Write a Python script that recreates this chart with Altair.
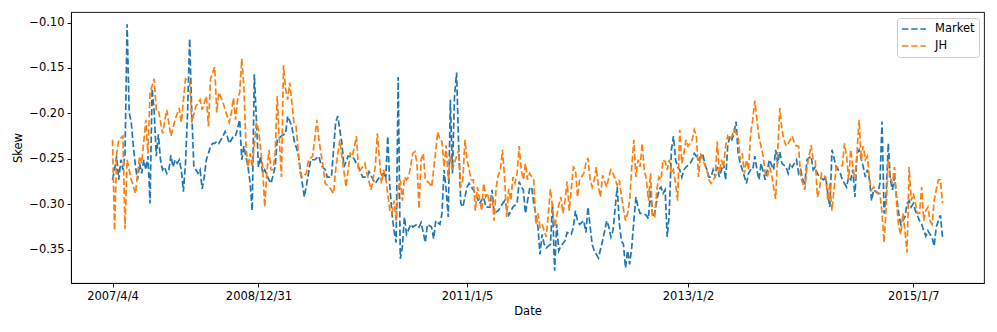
import altair as alt
import pandas as pd

series_names = ["Market", "JH"]
series_colors = ["#1f77b4", "#ff7f0e"]

tick_idx = [0, 70, 170, 276, 384]
tick_labels = ["2007/4/4", "2008/12/31", "2011/1/5", "2013/1/2", "2015/1/7"]
last_idx = 398

market_points = [
    (0, -0.273), (1, -0.262), (2, -0.247), (3, -0.273), (4, -0.251), (5, -0.262), (6, -0.244),
    (7, -0.102), (8, -0.199), (9, -0.210), (10, -0.236), (11, -0.258), (12, -0.273), (13, -0.255),
    (14, -0.266), (15, -0.251), (16, -0.262), (17, -0.247), (18, -0.299), (19, -0.173), (20, -0.199),
    (21, -0.247), (22, -0.223), (23, -0.251), (24, -0.262), (25, -0.259), (26, -0.266), (27, -0.262),
    (28, -0.246), (29, -0.259), (30, -0.251), (31, -0.255), (32, -0.251), (33, -0.262), (34, -0.286),
    (35, -0.255), (36, -0.199), (37, -0.118), (38, -0.199), (39, -0.259), (40, -0.262), (41, -0.266),
    (42, -0.262), (43, -0.283), (44, -0.270), (45, -0.251), (46, -0.244), (47, -0.236), (48, -0.233),
    (49, -0.233), (50, -0.231), (51, -0.233), (52, -0.229), (53, -0.225), (54, -0.220), (55, -0.225),
    (56, -0.233), (57, -0.229), (58, -0.225), (59, -0.225), (61, -0.207), (62, -0.251), (63, -0.236),
    (65, -0.259), (66, -0.277), (67, -0.307), (68, -0.157), (69, -0.207), (70, -0.259), (71, -0.247),
    (72, -0.266), (73, -0.262), (75, -0.273), (76, -0.277), (78, -0.259), (79, -0.229), (81, -0.225),
    (83, -0.222), (84, -0.203), (86, -0.214), (87, -0.229), (89, -0.244), (91, -0.277), (92, -0.292),
    (94, -0.266), (95, -0.251), (97, -0.251), (99, -0.247), (100, -0.257), (102, -0.262), (103, -0.270),
    (105, -0.270), (107, -0.210), (108, -0.203), (110, -0.233), (111, -0.259), (113, -0.247),
    (115, -0.247), (116, -0.251), (118, -0.259), (119, -0.265), (120, -0.270), (122, -0.270),
    (123, -0.264), (125, -0.273), (126, -0.277), (128, -0.270), (130, -0.266), (131, -0.273),
    (132, -0.225), (133, -0.281), (134, -0.310), (135, -0.329), (136, -0.342), (137, -0.160),
    (138, -0.360), (139, -0.347), (140, -0.314), (141, -0.333), (143, -0.322), (144, -0.325),
    (146, -0.322), (147, -0.325), (148, -0.320), (150, -0.342), (151, -0.322), (153, -0.325),
    (154, -0.338), (155, -0.318), (157, -0.322), (158, -0.310), (159, -0.262), (160, -0.284),
    (161, -0.314), (162, -0.185), (163, -0.266), (164, -0.181), (165, -0.155), (166, -0.236),
    (167, -0.299), (168, -0.303), (170, -0.281), (171, -0.277), (173, -0.284), (174, -0.288),
    (176, -0.299), (178, -0.292), (179, -0.303), (181, -0.303), (182, -0.284), (183, -0.310),
    (185, -0.307), (186, -0.303), (188, -0.296), (189, -0.303), (190, -0.312), (192, -0.303),
    (194, -0.299), (195, -0.275), (196, -0.281), (197, -0.284), (198, -0.310), (200, -0.283),
    (201, -0.281), (202, -0.299), (204, -0.325), (205, -0.355), (206, -0.333), (207, -0.344),
    (208, -0.348), (210, -0.344), (211, -0.299), (212, -0.373), (213, -0.322), (214, -0.351),
    (215, -0.346), (217, -0.340), (218, -0.331), (220, -0.333), (221, -0.325), (222, -0.307),
    (223, -0.318), (224, -0.322), (226, -0.318), (227, -0.331), (228, -0.303), (230, -0.344),
    (231, -0.351), (233, -0.359), (235, -0.340), (237, -0.318), (238, -0.325), (239, -0.336),
    (240, -0.329), (242, -0.281), (243, -0.320), (244, -0.340), (245, -0.344), (246, -0.370),
    (247, -0.351), (248, -0.366), (249, -0.347), (250, -0.318), (251, -0.292), (252, -0.303),
    (253, -0.310), (254, -0.310), (256, -0.312), (257, -0.316), (258, -0.284), (259, -0.314),
    (260, -0.310), (261, -0.296), (262, -0.284), (263, -0.281), (264, -0.288), (265, -0.284),
    (266, -0.336), (267, -0.310), (268, -0.240), (269, -0.225), (270, -0.251), (271, -0.259),
    (272, -0.262), (273, -0.270), (274, -0.262), (275, -0.259), (277, -0.255), (278, -0.251),
    (279, -0.244), (280, -0.247), (281, -0.251), (283, -0.244), (284, -0.255), (285, -0.262),
    (286, -0.270), (287, -0.270), (288, -0.262), (289, -0.270), (290, -0.259), (291, -0.270),
    (292, -0.262), (293, -0.255), (294, -0.273), (295, -0.236), (296, -0.225), (297, -0.229),
    (298, -0.222), (299, -0.209), (300, -0.244), (301, -0.255), (302, -0.262), (304, -0.277),
    (305, -0.266), (306, -0.262), (307, -0.262), (308, -0.247), (309, -0.262), (310, -0.273),
    (311, -0.255), (312, -0.264), (313, -0.273), (314, -0.262), (315, -0.251), (317, -0.262),
    (318, -0.240), (319, -0.255), (320, -0.242), (321, -0.255), (323, -0.259), (324, -0.266),
    (325, -0.255), (326, -0.259), (328, -0.251), (329, -0.266), (330, -0.262), (331, -0.273),
    (332, -0.277), (333, -0.251), (335, -0.247), (336, -0.262), (337, -0.259), (338, -0.266),
    (339, -0.270), (341, -0.273), (342, -0.270), (343, -0.288), (344, -0.303), (345, -0.240),
    (347, -0.259), (348, -0.262), (349, -0.266), (350, -0.273), (352, -0.281), (353, -0.270),
    (354, -0.273), (355, -0.262), (356, -0.292), (357, -0.244), (358, -0.240), (360, -0.259),
    (361, -0.270), (362, -0.262), (363, -0.273), (364, -0.296), (365, -0.284), (367, -0.288),
    (368, -0.277), (369, -0.209), (370, -0.310), (371, -0.288), (372, -0.233), (373, -0.273),
    (374, -0.284), (375, -0.270), (376, -0.292), (377, -0.310), (378, -0.322), (379, -0.318),
    (380, -0.314), (381, -0.299), (382, -0.296), (383, -0.303), (384, -0.299), (385, -0.307),
    (387, -0.318), (388, -0.322), (389, -0.329), (390, -0.335), (391, -0.329), (392, -0.333),
    (393, -0.336), (394, -0.346), (395, -0.325), (397, -0.312), (398, -0.336),
]

jh_points = [
    (0, -0.229), (1, -0.329), (2, -0.244), (3, -0.229), (5, -0.225), (6, -0.327), (7, -0.251),
    (9, -0.273), (11, -0.288), (13, -0.247), (14, -0.255), (16, -0.207), (17, -0.244), (18, -0.177),
    (20, -0.162), (21, -0.196), (22, -0.196), (24, -0.222), (26, -0.196), (28, -0.225), (30, -0.207),
    (32, -0.194), (33, -0.210), (35, -0.162), (37, -0.164), (38, -0.210), (40, -0.192), (42, -0.185),
    (43, -0.196), (45, -0.181), (46, -0.214), (47, -0.162), (49, -0.149), (50, -0.199), (51, -0.177),
    (53, -0.188), (54, -0.196), (56, -0.210), (57, -0.199), (58, -0.183), (59, -0.207), (60, -0.185),
    (61, -0.177), (62, -0.140), (63, -0.170), (64, -0.236), (65, -0.259), (66, -0.244), (67, -0.259),
    (69, -0.210), (70, -0.218), (72, -0.259), (73, -0.303), (74, -0.266), (75, -0.240), (76, -0.262),
    (77, -0.262), (78, -0.244), (79, -0.181), (80, -0.229), (81, -0.270), (82, -0.147), (83, -0.173),
    (84, -0.185), (85, -0.166), (87, -0.210), (88, -0.214), (90, -0.266), (91, -0.270), (93, -0.266),
    (94, -0.251), (96, -0.247), (98, -0.207), (99, -0.229), (101, -0.259), (102, -0.277),
    (104, -0.281), (106, -0.288), (107, -0.262), (109, -0.229), (110, -0.247), (112, -0.281),
    (114, -0.244), (115, -0.247), (117, -0.225), (118, -0.264), (120, -0.259), (121, -0.255),
    (122, -0.266), (124, -0.284), (126, -0.259), (127, -0.222), (129, -0.277), (130, -0.262),
    (131, -0.270), (133, -0.307), (134, -0.310), (135, -0.296), (136, -0.318), (137, -0.284),
    (138, -0.273), (139, -0.296), (140, -0.270), (141, -0.273), (142, -0.270), (144, -0.244),
    (145, -0.242), (146, -0.255), (147, -0.305), (148, -0.251), (149, -0.244), (150, -0.273),
    (152, -0.277), (153, -0.281), (154, -0.262), (156, -0.220), (157, -0.229), (158, -0.231),
    (159, -0.259), (160, -0.235), (161, -0.273), (162, -0.247), (163, -0.262), (165, -0.247),
    (166, -0.240), (167, -0.281), (168, -0.273), (169, -0.229), (170, -0.251), (172, -0.273),
    (173, -0.273), (174, -0.307), (175, -0.281), (177, -0.307), (178, -0.277), (179, -0.292),
    (180, -0.288), (181, -0.303), (182, -0.290), (183, -0.318), (184, -0.281), (185, -0.268),
    (186, -0.262), (187, -0.240), (188, -0.270), (189, -0.314), (190, -0.283), (191, -0.296),
    (192, -0.270), (193, -0.277), (194, -0.266), (195, -0.236), (196, -0.262), (197, -0.273),
    (198, -0.255), (199, -0.273), (200, -0.266), (202, -0.273), (203, -0.322), (204, -0.310),
    (205, -0.325), (206, -0.322), (208, -0.336), (209, -0.310), (210, -0.283), (211, -0.303),
    (212, -0.325), (214, -0.301), (215, -0.292), (216, -0.310), (217, -0.296), (218, -0.275),
    (219, -0.307), (221, -0.259), (222, -0.262), (223, -0.292), (224, -0.273), (226, -0.266),
    (227, -0.255), (228, -0.249), (229, -0.273), (230, -0.281), (231, -0.273), (232, -0.259),
    (233, -0.281), (234, -0.292), (235, -0.268), (237, -0.281), (238, -0.270), (239, -0.262),
    (240, -0.266), (242, -0.279), (243, -0.273), (244, -0.290), (245, -0.305), (246, -0.318),
    (247, -0.310), (248, -0.295), (249, -0.259), (250, -0.229), (251, -0.270), (252, -0.251),
    (253, -0.259), (254, -0.233), (255, -0.262), (256, -0.273), (257, -0.296), (258, -0.266),
    (259, -0.314), (260, -0.314), (261, -0.284), (262, -0.270), (263, -0.273), (264, -0.251),
    (265, -0.253), (266, -0.262), (267, -0.251), (268, -0.266), (269, -0.262), (270, -0.277),
    (271, -0.296), (272, -0.218), (273, -0.255), (274, -0.244), (275, -0.229), (276, -0.236),
    (277, -0.233), (278, -0.229), (279, -0.218), (280, -0.225), (281, -0.270), (282, -0.244),
    (283, -0.251), (285, -0.262), (286, -0.273), (287, -0.277), (288, -0.273), (289, -0.270),
    (290, -0.231), (291, -0.266), (292, -0.251), (293, -0.259), (294, -0.236), (295, -0.225),
    (296, -0.229), (297, -0.225), (298, -0.218), (300, -0.225), (301, -0.251), (302, -0.244),
    (303, -0.266), (304, -0.251), (305, -0.262), (306, -0.222), (307, -0.207), (308, -0.186),
    (309, -0.207), (310, -0.226), (312, -0.247), (313, -0.266), (314, -0.270), (315, -0.259),
    (316, -0.266), (317, -0.281), (318, -0.294), (319, -0.240), (320, -0.194), (321, -0.218),
    (322, -0.229), (323, -0.236), (324, -0.233), (325, -0.229), (326, -0.225), (327, -0.233),
    (328, -0.236), (329, -0.236), (330, -0.270), (331, -0.277), (332, -0.284), (333, -0.259),
    (335, -0.235), (336, -0.251), (337, -0.251), (338, -0.292), (339, -0.284), (340, -0.266),
    (342, -0.270), (343, -0.296), (344, -0.277), (345, -0.307), (347, -0.259), (348, -0.259),
    (349, -0.259), (350, -0.257), (351, -0.233), (352, -0.247), (353, -0.273), (354, -0.240),
    (355, -0.259), (356, -0.273), (357, -0.244), (358, -0.207), (359, -0.251), (360, -0.236),
    (361, -0.251), (362, -0.247), (363, -0.273), (364, -0.284), (365, -0.281), (367, -0.288),
    (368, -0.288), (369, -0.310), (370, -0.342), (371, -0.303), (372, -0.251), (373, -0.270),
    (374, -0.277), (375, -0.259), (376, -0.299), (377, -0.325), (378, -0.333), (379, -0.310),
    (380, -0.329), (381, -0.353), (382, -0.259), (383, -0.296), (384, -0.288), (385, -0.299),
    (386, -0.310), (387, -0.310), (388, -0.281), (389, -0.318), (390, -0.307), (391, -0.303),
    (392, -0.318), (393, -0.322), (394, -0.296), (395, -0.284), (396, -0.273), (397, -0.273),
    (398, -0.299),
]

y_ticks = [-0.35, -0.30, -0.25, -0.20, -0.15, -0.10]

market_df = pd.DataFrame(market_points, columns=["idx", "Skew"])
market_df["series"] = series_names[0]
jh_df = pd.DataFrame(jh_points, columns=["idx", "Skew"])
jh_df["series"] = series_names[1]

# x-axis labels mapped from tick indices
label_expr = ""
for i, lab in zip(tick_idx, tick_labels):
    label_expr += f"datum.value == {i} ? '{lab}' : "
label_expr += "''"

margin = 0.05 * last_idx
x_scale = alt.Scale(domain=[-margin, last_idx + margin], nice=False, zero=False)
y_lo, y_hi = -0.373, -0.102
y_pad = 0.05 * (y_hi - y_lo)
y_scale = alt.Scale(domain=[y_lo - y_pad, y_hi + y_pad], nice=False, zero=False)

FONT = "DejaVu Sans"
FS = 11.5

axis_style = dict(
    grid=False, domainColor="black", domainWidth=0.9, tickColor="black", tickWidth=0.9,
    tickSize=4, labelFont=FONT, labelFontSize=FS, labelColor="black", labelPadding=3,
    titleFont=FONT, titleFontSize=FS, titleColor="black", titleFontWeight="normal",
)

x_enc = alt.X("idx:Q", scale=x_scale, title="Date",
              axis=alt.Axis(values=tick_idx, labelExpr=label_expr,
                            labelFlush=False, labelOverlap=False, titlePadding=4, **axis_style))
y_enc = alt.Y("Skew:Q", scale=y_scale, title="Skew",
              axis=alt.Axis(values=y_ticks, format=".2f", titlePadding=5, **axis_style))
color_enc = alt.Color("series:N",
                      scale=alt.Scale(domain=series_names, range=series_colors),
                      legend=alt.Legend(title=None, orient="none", legendX=826, legendY=6,
                                        symbolType="stroke", symbolSize=576, clipHeight=14,
                                        symbolDash=[6.4, 2.8], symbolStrokeWidth=1.7,
                                        rowPadding=3, padding=4, labelOffset=8,
                                        fillColor="white", strokeColor="#cccccc",
                                        cornerRadius=3, labelFontSize=FS, labelFont=FONT,
                                        labelColor="black"))

line_kw = dict(strokeWidth=1.7, strokeDash=[6.4, 2.8], interpolate="linear")

market_line = alt.Chart(market_df).mark_line(**line_kw).encode(x=x_enc, y=y_enc, color=color_enc)
jh_line = alt.Chart(jh_df).mark_line(**line_kw).encode(x=x_enc, y=y_enc, color=color_enc)

chart = alt.layer(market_line, jh_line).properties(
    width=913, height=271,
    background="white",
    autosize=alt.AutoSizeParams(type="none"),
    padding={"left": 63, "top": 4, "right": 5, "bottom": 40},
).configure_view(
    stroke="black", strokeWidth=0.9
)

chart.save("out.html", embed_options={"renderer": "svg", "actions": False})
